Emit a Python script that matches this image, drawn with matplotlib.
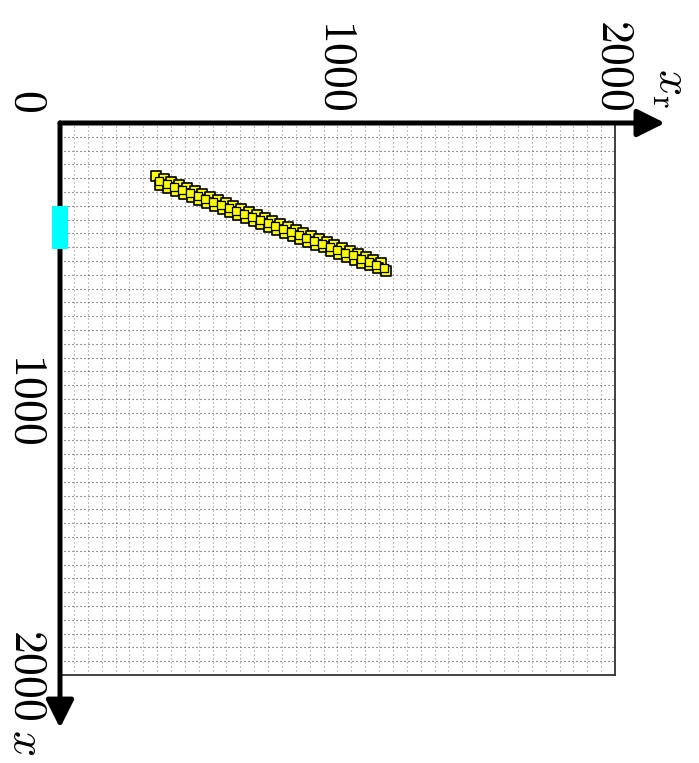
import matplotlib
matplotlib.use("Agg")
import matplotlib.pyplot as plt
from matplotlib.patches import Rectangle

plt.rcParams['mathtext.fontset'] = 'cm'

# axis range and grid spacing
axis_max = 2000
grid_step = 50

# selected range on the x axis
sel_x = (300, 455)

# matched cells: three rows of squares along the band
upper_xr = [345, 373, 401, 429, 457, 485, 513, 541, 569, 597, 625, 653, 681, 709, 737,
            765, 793, 821, 849, 877, 905, 933, 961, 989, 1017, 1045, 1073, 1101, 1129, 1157]
upper_x = [193, 204, 215, 226, 236, 247, 258, 269, 280, 291, 301, 312, 323, 334, 345,
           356, 367, 377, 388, 399, 410, 421, 432, 442, 453, 464, 475, 486, 497, 507]
lower_xr = [362, 390, 418, 446, 474, 502, 530, 558, 586, 614, 642, 670, 698, 726, 754,
            782, 810, 838, 866, 894, 922, 950, 978, 1006, 1034, 1062, 1090, 1118, 1146, 1174]
lower_x = [224, 234, 245, 256, 267, 278, 289, 300, 310, 321, 332, 343, 354, 365, 375,
           386, 397, 408, 419, 430, 441, 451, 462, 473, 484, 495, 506, 516, 527, 538]
mid_xr = [356, 384, 412, 440, 468, 496, 524, 552, 580, 608, 636, 664, 692, 720, 748,
          776, 804, 832, 860, 888, 916, 944, 972, 1000, 1028, 1056, 1084, 1112, 1140, 1168]
mid_x = [209, 220, 231, 242, 253, 264, 274, 285, 296, 307, 318, 329, 339, 350, 361,
         372, 383, 394, 405, 415, 426, 437, 448, 459, 470, 480, 491, 502, 513, 524]

tick_vals = [1000, 2000]

fig = plt.figure(figsize=(6.99, 7.63), dpi=100)
ax = fig.add_axes([60 / 699, 1 - 675 / 763, 555 / 699, 552 / 763])
ax.set_xlim(0, axis_max)
ax.set_ylim(axis_max, 0)

# dotted grid every 50
ax.set_xticks(range(0, axis_max + 1, grid_step))
ax.set_yticks(range(0, axis_max + 1, grid_step))
ax.tick_params(length=0, labelbottom=False, labelleft=False)
ax.xaxis.grid(True, linestyle=(0, (1.0, 2.6)), color='0.55', lw=0.8)
ax.yaxis.grid(True, linestyle=(0, (1.0, 2.6)), color='0.25', lw=0.8)
ax.set_axisbelow(True)

for side in ['top', 'left']:
    ax.spines[side].set_visible(False)
for side in ['right', 'bottom']:
    ax.spines[side].set_color('0.2')
    ax.spines[side].set_linewidth(1.3)

# axis arrows
arrow = dict(arrowstyle='-|>', lw=3.6, mutation_scale=42, color='black',
             shrinkA=0, shrinkB=0)
ax.annotate('', xy=(2180, 0), xytext=(0, 0), arrowprops=arrow, annotation_clip=False)
ax.annotate('', xy=(0, 2192), xytext=(0, 0), arrowprops=arrow, annotation_clip=False)

# squares
ax.scatter(upper_xr, upper_x, marker='s', s=58, c='yellow', edgecolors='black',
           linewidths=1.2, zorder=3, clip_on=False)
ax.scatter(lower_xr, lower_x, marker='s', s=58, c='yellow', edgecolors='black',
           linewidths=1.2, zorder=3, clip_on=False)
ax.scatter(mid_xr, mid_x, marker='s', s=26, c='yellow', edgecolors='black',
           linewidths=0.9, zorder=4, clip_on=False)

# selected range on the x axis
ax.add_patch(Rectangle((-28, sel_x[0]), 56, sel_x[1] - sel_x[0], facecolor='cyan',
                       edgecolor='none', zorder=5, clip_on=False))

# tick labels
fs = 33
for v in tick_vals:
    ax.text(v, -210, '$%d$' % v, rotation=-90, fontsize=fs, ha='center', va='center')
    ax.text(-115, v, '$%d$' % v, rotation=-90, fontsize=fs, ha='center', va='center')
ax.text(-115, -83, '$0$', rotation=-90, fontsize=fs, ha='center', va='center')

# axis labels
ax.text(2207, -127, r'$x_{\mathrm{r}}$', rotation=-90, fontsize=fs, ha='center', va='center')
ax.text(-120, 2243, r'$x$', rotation=-90, fontsize=fs, ha='center', va='center')

fig.savefig('out.png', dpi=100)
